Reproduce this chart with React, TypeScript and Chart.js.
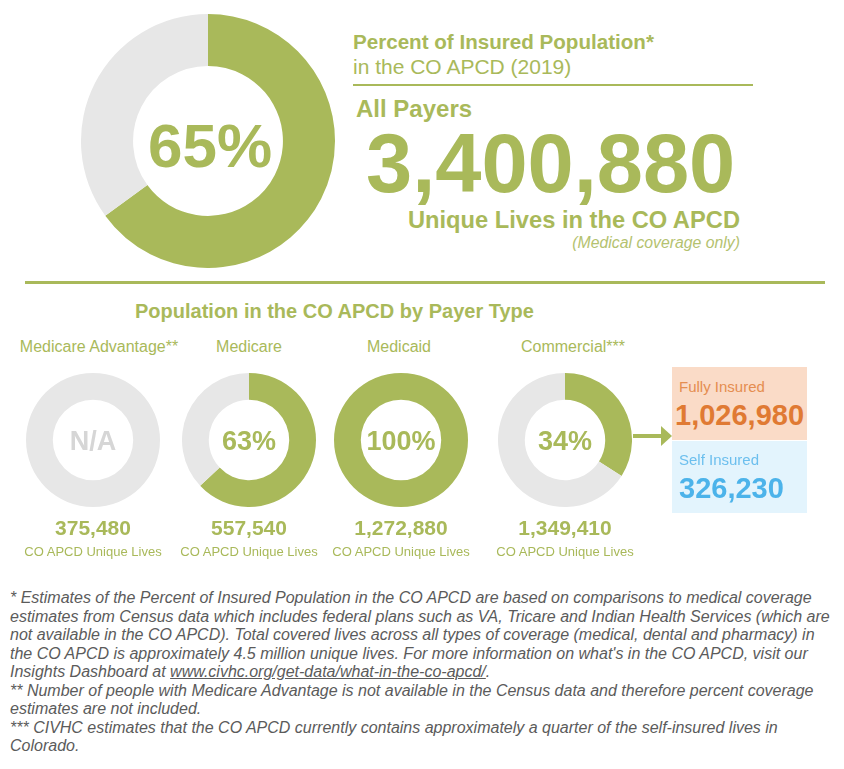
import React, { useEffect, useRef } from "react";
import Chart from "chart.js/auto";

// ---- data ----
const overallTitle = "Percent of Insured Population*";
const overallSubtitle = "in the CO APCD (2019)";
const overallPercent = 65;
const overallLives = "3,400,880";
const payerTypes = ["Medicare Advantage**", "Medicare", "Medicaid", "Commercial***"];
const payerPercents: (number | null)[] = [null, 63, 100, 34];
const payerLives = ["375,480", "557,540", "1,272,880", "1,349,410"];
const commercialSplitLabels = ["Fully Insured", "Self Insured"];
const commercialSplitLives = ["1,026,980", "326,230"];
const footnoteLines = [
  "* Estimates of the Percent of Insured Population in the CO APCD are based on comparisons to medical coverage",
  "estimates from Census data which includes federal plans such as VA, Tricare and Indian Health Services (which are",
  "not available in the CO APCD). Total covered lives across all types of coverage (medical, dental and pharmacy) in",
  "the CO APCD is approximately 4.5 million unique lives. For more information on what's in the CO APCD, visit our",
  "@@LINK",
  "** Number of people with Medicare Advantage is not available in the Census data and therefore percent coverage",
  "estimates are not included.",
  "*** CIVHC estimates that the CO APCD currently contains approximately a quarter of the self-insured lives in",
  "Colorado.",
];

const GREEN = "#a9b95a";
const GREY = "#e7e7e7";
const FONT = "'Liberation Sans', Arial, Helvetica, sans-serif";

function Donut({ cx, cy, r, cutout, percent }: { cx: number; cy: number; r: number; cutout: string; percent: number | null }) {
  const ref = useRef<HTMLCanvasElement | null>(null);
  useEffect(() => {
    const p = percent == null ? 0 : percent;
    const chart = new Chart(ref.current as HTMLCanvasElement, {
      type: "doughnut",
      data: {
        labels: ["In CO APCD", "Not in CO APCD"],
        datasets: [{ data: [p, 100 - p], backgroundColor: [GREEN, GREY], borderWidth: 0 }],
      },
      options: {
        responsive: false,
        animation: false,
        cutout,
        layout: { padding: 0 },
        events: [],
        plugins: { legend: { display: false }, tooltip: { enabled: false } },
      },
    });
    return () => chart.destroy();
  }, [percent, cutout]);
  return (
    <canvas
      ref={ref}
      width={2 * r}
      height={2 * r}
      style={{ position: "absolute", left: cx - r, top: cy - r, width: 2 * r, height: 2 * r }}
    />
  );
}

type TProps = {
  x: number;
  y: number;
  size: number;
  color: string;
  bold?: boolean;
  italic?: boolean;
  align?: "left" | "center" | "right";
  children: React.ReactNode;
};
function T({ x, y, size, color, bold, italic, align = "left", children }: TProps) {
  const tx = align === "center" ? "-50%" : align === "right" ? "-100%" : "0";
  return (
    <div
      style={{
        position: "absolute",
        left: x,
        top: y,
        transform: `translate(${tx}, -50%)`,
        fontSize: size,
        lineHeight: 1,
        fontWeight: bold ? 700 : 400,
        fontStyle: italic ? "italic" : "normal",
        color,
        whiteSpace: "nowrap",
      }}
    >
      {children}
    </div>
  );
}

const smallCx = [93, 249, 401, 565];
const labelCx = [99, 249, 399, 573];
const SMALL_CY = 440;

export default function App() {
  return (
    <div
      style={{
        position: "absolute",
        left: 0,
        top: 0,
        width: 844,
        height: 769,
        background: "#fff",
        fontFamily: FONT,
        overflow: "hidden",
      }}
    >
      {/* big donut */}
      <Donut cx={208} cy={141} r={127} cutout="59%" percent={overallPercent} />
      <T x={210} y={146} size={62} color={GREEN} bold align="center">{overallPercent}%</T>

      <T x={353} y={42} size={20.6} color={GREEN} bold>{overallTitle}</T>
      <T x={353} y={66} size={21} color={GREEN}>{overallSubtitle}</T>
      <div style={{ position: "absolute", left: 353, top: 84, width: 400, height: 2, background: GREEN }} />
      <T x={356} y={109} size={24} color={GREEN} bold>All Payers</T>
      <T x={366} y={163} size={83} color={GREEN} bold>{overallLives}</T>
      <T x={740} y={221} size={23.7} color={GREEN} bold align="right">Unique Lives in the CO APCD</T>
      <T x={740} y={243} size={15.8} color="#b4c26f" italic align="right">(Medical coverage only)</T>

      <div style={{ position: "absolute", left: 25, top: 281, width: 800, height: 3, background: GREEN }} />
      <T x={135} y={311} size={20} color={GREEN} bold>Population in the CO APCD by Payer Type</T>

      {payerTypes.map((name, i) => (
        <React.Fragment key={name}>
          <T x={labelCx[i]} y={347} size={16} color={GREEN} align="center">{name}</T>
          <Donut cx={smallCx[i]} cy={SMALL_CY} r={67} cutout="60%" percent={payerPercents[i]} />
          <T
            x={smallCx[i]}
            y={SMALL_CY + 1}
            size={27}
            color={payerPercents[i] == null ? "#d6d6d6" : GREEN}
            bold
            align="center"
          >
            {payerPercents[i] == null ? "N/A" : `${payerPercents[i]}%`}
          </T>
          <T x={smallCx[i]} y={527} size={21} color={GREEN} bold align="center">{payerLives[i]}</T>
          <T x={smallCx[i]} y={551} size={13} color={GREEN} align="center">CO APCD Unique Lives</T>
        </React.Fragment>
      ))}

      {/* arrow */}
      <div style={{ position: "absolute", left: 633, top: 434, width: 30, height: 4, background: GREEN }} />
      <div
        style={{
          position: "absolute",
          left: 661,
          top: 426,
          width: 0,
          height: 0,
          borderTop: "10px solid transparent",
          borderBottom: "10px solid transparent",
          borderLeft: `11px solid ${GREEN}`,
        }}
      />

      {/* commercial split boxes */}
      <div style={{ position: "absolute", left: 672, top: 367, width: 135, height: 73, background: "#fadbc7" }} />
      <div style={{ position: "absolute", left: 672, top: 441, width: 135, height: 72, background: "#e3f4fd" }} />
      <T x={679} y={386} size={15} color="#e58d50">{commercialSplitLabels[0]}</T>
      <T x={675} y={415} size={29} color="#e07a33" bold>{commercialSplitLives[0]}</T>
      <T x={679} y={459} size={15} color="#6cbfee">{commercialSplitLabels[1]}</T>
      <T x={679} y={488} size={29} color="#4cb3ea" bold>{commercialSplitLives[1]}</T>

      {/* footnotes */}
      <div
        style={{
          position: "absolute",
          left: 10,
          top: 589,
          fontSize: 16,
          lineHeight: "18.5px",
          fontStyle: "italic",
          color: "#5b5b5b",
          whiteSpace: "nowrap",
        }}
      >
        {footnoteLines.map((ln, i) => (
          <div key={i}>
            {ln === "@@LINK" ? (
              <>
                Insights Dashboard at <span style={{ textDecoration: "underline" }}>www.civhc.org/get-data/what-in-the-co-apcd/</span>.
              </>
            ) : (
              ln
            )}
          </div>
        ))}
      </div>
    </div>
  );
}
